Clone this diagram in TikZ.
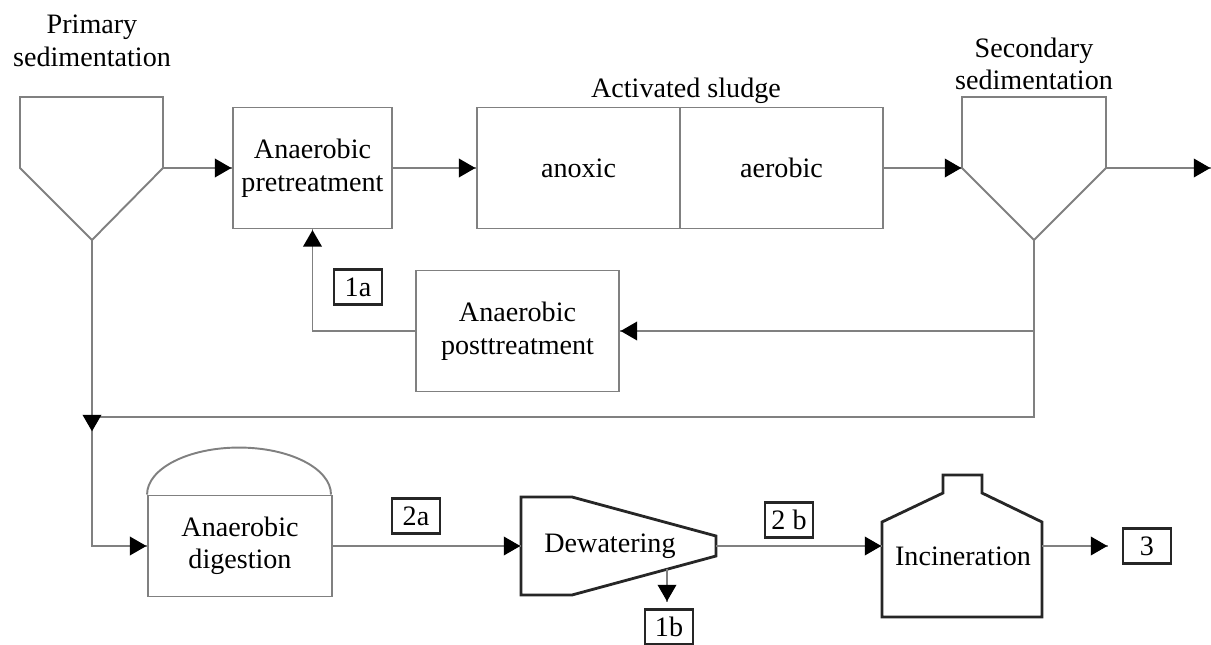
\documentclass[tikz,border=0pt]{standalone}
\usepackage{fontspec}
\setmainfont{Liberation Serif}
\usetikzlibrary{shapes.geometric}
\definecolor{linegray}{gray}{0.5}
\tikzstyle{unit}=[rectangle,draw=linegray,line width=1.1pt,align=center,inner sep=0]
\tikzstyle{tag}=[rectangle,draw=black!85,line width=1.6pt,minimum width=0.96cm,minimum height=0.7cm,inner sep=3pt]
\tikzset{flow/.style={draw=linegray,line width=1.1pt}}
\tikzset{heavy/.style={draw=black!85,line width=1.6pt,line join=miter}}
\tikzset{
  rarrow/.style={
    shape border rotate=-90,
    regular polygon,
    regular polygon sides=3,
    fill=black,
    inner sep=0,
    minimum height=4.4mm,
    anchor=corner 1
  }
}
\tikzset{
  larrow/.style={
    shape border rotate=90,
    regular polygon,
    regular polygon sides=3,
    fill=black,
    inner sep=0,
    minimum height=4.4mm,
    anchor=corner 1
  }
}
\tikzset{
  uarrow/.style={
    regular polygon,
    regular polygon sides=3,
    fill=black,
    inner sep=0,
    minimum height=4.4mm,
    anchor=corner 1
  }
}
\tikzset{
  darrow/.style={
    shape border rotate=180,
    regular polygon,
    regular polygon sides=3,
    fill=black,
    inner sep=0,
    minimum height=4.4mm,
    anchor=corner 1
  }
}

\begin{document}
\begin{tikzpicture}[x=0.02cm,y=-0.02cm,font=\fontsize{16}{18.5}\selectfont]
\useasboundingbox (0,0) rectangle (1211,645);

% settling tanks
\draw[flow] (20,97) -- (20,168) -- (92,240) -- (163,168) -- (163,97) -- cycle;
\draw[flow] (962,97) -- (962,168) -- (1034,240) -- (1106,168) -- (1106,97) -- cycle;
\coordinate (pout) at (163,168);
\coordinate (papex) at (92,240);
\coordinate (sin) at (962,168);
\coordinate (sout) at (1106,168);
\coordinate (sapex) at (1034,240);
\coordinate (exit) at (1211,168);
\coordinate (jl) at (92,417);

\node[align=center] (prim) at (92,41) {Primary\\sedimentation};
\node[align=center] (sec) at (1034,64) {Secondary\\sedimentation};
\node (asl) at (686,91) {Activated sludge};

\node[unit,minimum width=3.18cm,minimum height=2.42cm] (pre) at (312.5,168) {Anaerobic\\pretreatment};
\node[unit,minimum width=4.06cm,minimum height=2.42cm] (anox) at (578.5,168) {anoxic};
\node[unit,minimum width=4.06cm,minimum height=2.42cm] (aero) at (781.5,168) {aerobic};
\node[unit,minimum width=4.06cm,minimum height=2.42cm] (post) at (517.5,331) {Anaerobic\\posttreatment};
\node[unit,minimum width=3.68cm,minimum height=2.02cm] (dig) at (240,546) {Anaerobic\\digestion};
\draw[flow] (dig.north west) arc[start angle=180,end angle=0,x radius=1.84cm,y radius=0.94cm];

% dewatering and incineration
\draw[heavy] (521,497) -- (572,497) -- (716,536) -- (716,556) -- (572,595) -- (521,595) -- cycle;
\node (dewt) at (610,546) {Dewatering};
\coordinate (dewin) at (521,546);
\coordinate (dewout) at (716,546);
\coordinate (dewdrop) at (667,569);
\coordinate (drop1b) at (667,602);

\draw[heavy] (882,617) -- (882,522) -- (943,493) -- (943,475) -- (982,475) -- (982,493) -- (1042,522) -- (1042,617) -- cycle;
\node (inct) at (963,556) {Incineration};
\coordinate (incin) at (882,546);
\coordinate (incout) at (1042,546);
\coordinate (to3) at (1108,546);

\node[tag] (t1a) at (358,287) {1a};
\node[tag] (t1b) at (669,627) {1b};
\node[tag] (t2a) at (416,516) {2a};
\node[tag] (t2b) at (789,520) {2 b};
\node[tag] (t3) at (1147,546) {3};

\draw[flow] (pout) -- (pre.west);
\draw[flow] (pre.east) -- (anox.west);
\draw[flow] (aero.east) -- (sin);
\draw[flow] (sout) -- (exit);
\draw[flow] (sapex) |- (post.east);
\draw[flow] (sapex) |- (jl);
\draw[flow] (post.west) -| (pre.south);
\draw[flow] (papex) |- (dig.west);
\draw[flow] (dig.east) -- (dewin);
\draw[flow] (dewout) -- (incin);
\draw[flow] (incout) -- (to3);
\draw[flow] (dewdrop) -- (drop1b);

\node[rarrow] at (pre.west) {};
\node[rarrow] at (anox.west) {};
\node[rarrow] at (sin) {};
\node[rarrow] at (exit) {};
\node[rarrow] at (dig.west) {};
\node[rarrow] at (dewin) {};
\node[rarrow] at (incin) {};
\node[rarrow] at (to3) {};
\node[larrow] at (post.east) {};
\node[uarrow] at (pre.south) {};
\node[darrow] at (92,432) {};
\node[darrow] at (drop1b) {};

\end{tikzpicture}
\end{document}
